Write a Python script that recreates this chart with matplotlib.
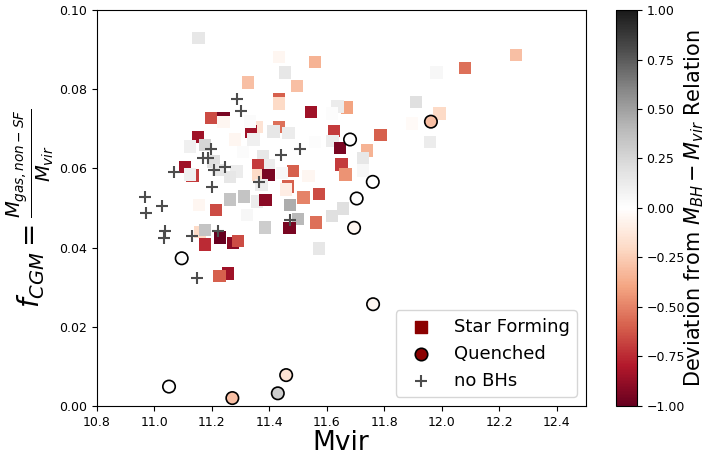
"""
f_CGM vs Mvir, coloured by deviation from the M_BH - M_vir relation
"""

import numpy as np
import matplotlib
matplotlib.use("Agg")
import matplotlib.pyplot as plt

# Star forming haloes: Mvir, f_CGM, deviation
sf_mvir = [11.155, 11.326, 11.197, 11.241, 11.241, 11.152, 11.125, 11.177, 11.496, 11.434,
           11.434, 11.546, 11.357, 11.434, 11.415, 11.467, 11.337, 11.345, 11.281, 11.310,
           11.334, 11.378, 11.397, 11.362, 11.362, 11.397, 11.482, 11.444, 11.536, 11.108,
           11.134, 11.125, 11.206, 11.223, 11.287, 11.264, 11.466, 11.459, 11.519, 11.573,
           11.264, 11.313, 11.357, 11.387, 11.473, 11.618, 11.656, 11.501, 11.470, 11.562,
           11.386, 11.574, 11.322, 11.156, 11.215, 11.160, 11.177, 11.229, 11.275, 11.291,
           11.177, 11.256, 11.227, 11.559, 11.670, 11.637, 11.618, 11.910, 11.896, 11.626,
           11.787, 11.620, 11.559, 11.646, 11.739, 11.725, 11.727, 11.652, 11.665, 11.435,
           11.455, 11.982, 11.959, 12.258, 12.081, 11.992, 11.373]
sf_fcgm = [0.0930, 0.0817, 0.0727, 0.0727, 0.0717, 0.0679, 0.0655, 0.0659, 0.0808, 0.0774,
           0.0764, 0.0742, 0.0705, 0.0705, 0.0693, 0.0690, 0.0693, 0.0673, 0.0673, 0.0642,
           0.0718, 0.0631, 0.0609, 0.0609, 0.0583, 0.0583, 0.0594, 0.0588, 0.0581, 0.0604,
           0.0582, 0.0585, 0.0617, 0.0596, 0.0592, 0.0579, 0.0554, 0.0547, 0.0526, 0.0535,
           0.0521, 0.0529, 0.0516, 0.0520, 0.0508, 0.0480, 0.0499, 0.0472, 0.0449, 0.0463,
           0.0451, 0.0398, 0.0482, 0.0508, 0.0495, 0.0440, 0.0444, 0.0426, 0.0411, 0.0417,
           0.0408, 0.0335, 0.0328, 0.0869, 0.0754, 0.0756, 0.0739, 0.0767, 0.0713, 0.0694,
           0.0684, 0.0669, 0.0667, 0.0651, 0.0645, 0.0626, 0.0595, 0.0610, 0.0585, 0.0882,
           0.0842, 0.0842, 0.0667, 0.0886, 0.0853, 0.0739, 0.0558]
sf_dev = [0.15, -0.30, -0.65, -0.95, -0.05, -0.85, 0.10, 0.25, -0.30, -0.60,
          -0.20, -0.85, -0.15, -0.55, 0.15, 0.12, -0.85, 0.10, -0.05, 0.03,
          0.03, 0.15, 0.12, -0.70, -0.20, -0.95, -0.60, 0.05, -0.05, -0.85,
          -0.70, 0.10, 0.20, 0.15, 0.12, 0.15, -0.60, -0.10, -0.50, -0.65,
          0.35, 0.35, 0.12, -0.90, 0.45, 0.20, 0.20, 0.40, -0.95, -0.55,
          0.30, 0.15, 0.05, -0.05, -0.65, -0.20, 0.35, -1.00, -0.90, -0.65,
          -0.75, -0.85, -0.60, -0.35, -0.40, 0.12, 0.02, 0.20, -0.03, -0.70,
          -0.60, 0.12, 0.02, -0.95, -0.35, 0.15, 0.05, -0.70, -0.45, -0.05,
          0.15, 0.05, 0.12, -0.30, -0.55, -0.20, 0.12]

# Quenched haloes
q_mvir = [11.052, 11.272, 11.430, 11.459, 11.761, 11.096, 11.695, 11.704, 11.760, 11.681, 11.962]
q_fcgm = [0.0049, 0.0020, 0.0032, 0.0078, 0.0257, 0.0373, 0.0450, 0.0524, 0.0566, 0.0673, 0.0718]
q_dev = [0.0, -0.30, 0.30, -0.15, -0.05, 0.02, -0.05, 0.0, 0.0, 0.0, -0.30]

# Haloes without black holes
nobh_mvir = [11.289, 11.302, 11.198, 11.507, 11.440, 11.171, 11.189, 11.209, 11.245, 11.365,
             11.203, 11.069, 10.969, 11.027, 10.972, 11.223, 11.038, 11.035, 11.131, 11.148, 11.473]
nobh_fcgm = [0.0775, 0.0746, 0.0648, 0.0649, 0.0634, 0.0626, 0.0625, 0.0597, 0.0604, 0.0566,
             0.0552, 0.0590, 0.0527, 0.0506, 0.0487, 0.0443, 0.0443, 0.0425, 0.0430, 0.0324, 0.0470]

fig = plt.figure(figsize=(7.07, 4.59), dpi=100)
ax = fig.add_axes([0.1365, 0.1155, 0.692, 0.8627])
cax = fig.add_axes([0.871, 0.1155, 0.0297, 0.8627])

sc = ax.scatter(sf_mvir, sf_fcgm, c=sf_dev, cmap="RdGy", vmin=-1, vmax=1,
                marker="s", s=80, linewidths=0)
ax.scatter(q_mvir, q_fcgm, c=q_dev, cmap="RdGy", vmin=-1, vmax=1,
           marker="o", s=80, edgecolors="k", linewidths=1.2)
ax.scatter(nobh_mvir, nobh_fcgm, marker="+", color="0.3", s=70, linewidths=1.5)

# legend proxies
h1 = ax.scatter([], [], marker="s", color="darkred", s=80, label="Star Forming")
h2 = ax.scatter([], [], marker="o", color="darkred", edgecolors="k", linewidths=1.2, s=80, label="Quenched")
h3 = ax.scatter([], [], marker="+", color="0.3", s=70, linewidths=1.5, label="no BHs")
ax.legend(handles=[h1, h2, h3], loc="lower right", fontsize=13)

ax.set_xlim(10.8, 12.5)
ax.set_ylim(0, 0.1)
ax.set_xticks(np.arange(10.8, 12.41, 0.2))
ax.tick_params(labelsize=9)
ax.set_xlabel("Mvir", fontsize=19, labelpad=1)
ax.set_ylabel(r"$f_{CGM} = \frac{M_{gas, non-SF}}{M_{vir}}$", fontsize=20, labelpad=2)

cb = fig.colorbar(sc, cax=cax)
cb.ax.tick_params(labelsize=9)
cb.set_label(r"Deviation from $M_{BH} - M_{vir}$ Relation", fontsize=15, labelpad=-2)

plt.savefig("out.png", dpi=100)
